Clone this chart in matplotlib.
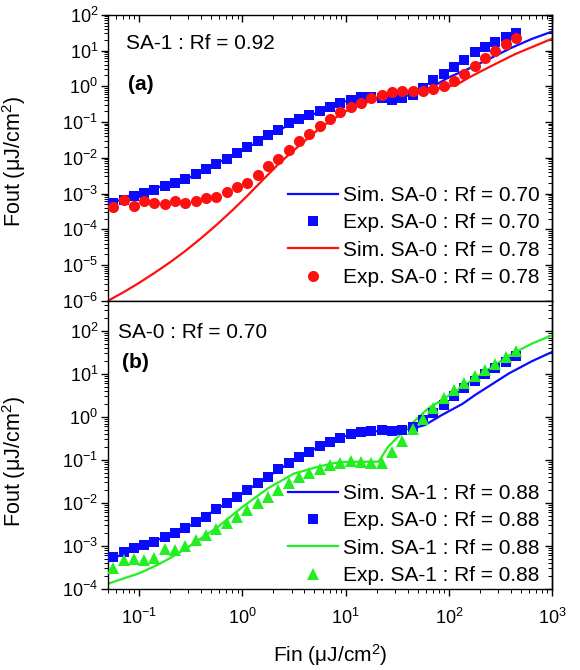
import numpy as np
import matplotlib
matplotlib.use("Agg")
import matplotlib.pyplot as plt
from matplotlib.ticker import LogLocator, LogFormatterSciNotation, NullFormatter

plt.rcParams['font.family'] = ['Liberation Sans', 'DejaVu Sans']
plt.rcParams['mathtext.fontset'] = 'custom'
plt.rcParams['mathtext.rm'] = 'Liberation Sans'
plt.rcParams['mathtext.it'] = 'Liberation Sans:italic'
plt.rcParams['mathtext.bf'] = 'Liberation Sans:bold'
plt.rcParams['mathtext.default'] = 'regular'

# input fluence of the measured points (uJ/cm2)
fin = [0.056, 0.071, 0.089, 0.112, 0.141, 0.178, 0.224, 0.282, 0.355, 0.447,
       0.562, 0.708, 0.891, 1.12, 1.41, 1.78, 2.24, 2.82, 3.55, 4.47,
       5.62, 7.08, 8.91, 11.2, 14.1, 17.8, 22.4, 28.2, 35.5, 44.7,
       56.2, 70.8, 89.1, 112, 141, 178, 224, 282, 355, 447]

# (a) experimental points
exp_a_070 = [5.6e-4, 6.8e-4, 8.3e-4, 1.05e-3, 1.23e-3, 1.58e-3, 1.95e-3, 2.5e-3, 3.5e-3, 4.8e-3,
             6.8e-3, 9.3e-3, 1.35e-2, 2.0e-2, 2.9e-2, 4.2e-2, 5.8e-2, 9.3e-2, 0.12, 0.16,
             0.21, 0.27, 0.35, 0.41, 0.49, 0.49, 0.47, 0.42, 0.47, 0.58,
             0.89, 1.45, 2.2, 3.5, 5.5, 8.9, 12.6, 17.4, 24.0, 31.6]
exp_a_078 = [4.2e-4, 6.5e-4, 4.4e-4, 6.3e-4, 5.4e-4, 5.1e-4, 6.3e-4, 5.4e-4, 6.0e-4, 7.4e-4,
             7.9e-4, 1.07e-3, 1.51e-3, 2.0e-3, 3.2e-3, 5.8e-3, 9.1e-3, 1.66e-2, 2.9e-2, 4.7e-2,
             7.6e-2, 0.12, 0.19, 0.26, 0.35, 0.47, 0.58, 0.68, 0.72, 0.74,
             0.76, 0.83, 1.0, 1.41, 2.24, 3.7, 6.2, 10.0, 15.5, 22.4]

# (a) simulated curves
sim_a_070_x = [0.05, 0.1, 0.316, 1.0, 3.16, 10, 17.8, 31.6, 50, 70.8, 100, 158, 251, 398, 631, 1000]
sim_a_070_y = [5.0e-4, 1.0e-3, 2.9e-3, 1.6e-2, 0.1, 0.38, 0.47, 0.48, 0.63, 1.0, 1.78, 3.16, 6.0, 11.7, 20.9, 33.9]
sim_a_078_x = [0.05, 0.0708, 0.1, 0.141, 0.2, 0.282, 0.398, 0.562, 0.794, 1.12, 1.58, 2.29, 3.63, 5.75,
               10, 17.8, 31.6, 58.9, 91.2, 123, 158, 251, 437, 1000]
sim_a_078_y = [1.0e-6, 1.74e-6, 3.16e-6, 6.0e-6, 1.2e-5, 2.5e-5, 5.6e-5, 1.32e-4, 3.3e-4, 8.7e-4, 2.4e-3, 7.1e-3, 2.3e-2, 7.1e-2,
               0.2, 0.4, 0.6, 0.79, 0.91, 1.17, 1.78, 3.55, 7.9, 21.4]

# (b) experimental points
exp_b_sa0 = [5.6e-4, 7.4e-4, 8.9e-4, 1.05e-3, 1.26e-3, 1.62e-3, 2.04e-3, 2.57e-3, 3.6e-3, 4.8e-3,
             7.1e-3, 9.8e-3, 1.38e-2, 2.0e-2, 2.9e-2, 4.1e-2, 6.0e-2, 8.3e-2, 0.117, 0.155,
             0.21, 0.26, 0.33, 0.40, 0.45, 0.48, 0.49, 0.48, 0.49, 0.59,
             0.83, 1.2, 1.86, 3.0, 4.6, 6.9, 9.8, 13.8, 18.6, 25.7]
exp_b_sa1 = [3.0e-4, 4.6e-4, 4.9e-4, 4.7e-4, 5.1e-4, 8.3e-4, 7.9e-4, 1.0e-3, 1.38e-3, 1.78e-3,
             2.45e-3, 3.4e-3, 4.8e-3, 6.9e-3, 9.8e-3, 1.38e-2, 2.0e-2, 2.9e-2, 3.9e-2, 5.0e-2,
             6.0e-2, 7.6e-2, 8.5e-2, 9.3e-2, 9.1e-2, 8.7e-2, 8.5e-2, 0.15, 0.28, 0.51,
             0.91, 1.58, 2.7, 4.2, 6.0, 8.9, 12.3, 17.4, 25.1, 33.9]

# (b) simulated curves
sim_b_sa0_x = [0.05, 0.1, 0.178, 0.316, 0.562, 1.0, 1.78, 3.16, 5.62, 10, 17.8, 31.6, 44.7, 58.9, 85.1, 135, 182, 380, 631, 1000]
sim_b_sa0_y = [4.5e-4, 9.5e-4, 1.6e-3, 3.0e-3, 7.1e-3, 1.65e-2, 4.1e-2, 0.1, 0.21, 0.36, 0.46, 0.49, 0.54, 0.65, 1.1, 2.0, 3.3, 10.2, 19.5, 32.4]
sim_b_sa1_x = [0.05, 0.1, 0.15, 0.2, 0.282, 0.398, 0.562, 1.0, 1.78, 3.16, 5.62, 7.94, 10, 17.8, 20.9,
               25.7, 32.4, 40.7, 51.3, 63.1, 85.1, 135, 209, 398, 631, 1000]
sim_b_sa1_y = [1.32e-4, 2.3e-4, 3.6e-4, 5.2e-4, 8.5e-4, 1.5e-3, 2.6e-3, 8.0e-3, 2.2e-2, 4.8e-2, 7.1e-2, 8.5e-2, 0.09, 0.091, 0.091,
               0.2, 0.35, 0.59, 1.0, 1.58, 2.45, 5.0, 10.2, 28.2, 50.1, 79.4]

BLUE = '#0a0aff'
RED = '#ff1010'
GREEN = '#22ee22'

fig = plt.figure(figsize=(5.8, 6.7), dpi=100)
ax1 = fig.add_axes([0.186, 0.551, 0.766, 0.427])
ax2 = fig.add_axes([0.186, 0.121, 0.766, 0.430])


def style(ax, top_panel):
    ax.set_xscale('log')
    ax.set_yscale('log')
    ax.set_xlim(0.05, 1000)
    for s in ax.spines.values():
        s.set_linewidth(1.0)
    for axis in (ax.xaxis, ax.yaxis):
        axis.set_major_locator(LogLocator(base=10, numticks=20))
        axis.set_minor_locator(LogLocator(base=10, subs=np.arange(2, 10), numticks=100))
        axis.set_minor_formatter(NullFormatter())
    ax.yaxis.set_major_formatter(LogFormatterSciNotation())
    ax.tick_params(axis='y', which='both', direction='out', left=True, right=False,
                   labelsize=13, pad=2)
    ax.tick_params(axis='y', which='major', length=5, width=1)
    ax.tick_params(axis='y', which='minor', length=3, width=0.7)
    ax.tick_params(axis='x', which='major', length=5, width=1)
    ax.tick_params(axis='x', which='minor', length=3, width=0.7)
    # mirrored ticks pointing inward
    sec = ax.secondary_yaxis('right')
    sec.set_yscale('log')
    sec.yaxis.set_minor_locator(LogLocator(base=10, subs=np.arange(2, 10), numticks=100))
    sec.tick_params(axis='y', which='both', direction='in', labelright=False)
    sec.tick_params(axis='y', which='major', length=5, width=1)
    sec.tick_params(axis='y', which='minor', length=3, width=0.7)
    sec.spines['right'].set_linewidth(1.0)
    if top_panel:
        ax.tick_params(axis='x', which='both', direction='in', top=True, bottom=False,
                       labelbottom=False)
    else:
        ax.xaxis.set_major_formatter(LogFormatterSciNotation())
        ax.tick_params(axis='x', which='both', direction='out', top=False, bottom=True,
                       labelsize=13, pad=9)


style(ax1, True)
style(ax2, False)

ax1.set_ylim(1e-6, 1e2)
ax2.set_ylim(1e-4, 500)

# panel (a)
ax1.plot(sim_a_070_x, sim_a_070_y, color=BLUE, lw=1.6, label='Sim. SA-0 : Rf = 0.70', zorder=2)
ax1.plot(fin, exp_a_070, 's', color=BLUE, ms=7, mew=0, label='Exp. SA-0 : Rf = 0.70', zorder=3)
ax1.plot(sim_a_078_x, sim_a_078_y, color=RED, lw=1.6, label='Sim. SA-0 : Rf = 0.78', zorder=2)
ax1.plot(fin, exp_a_078, 'o', color=RED, ms=8, mew=0, label='Exp. SA-0 : Rf = 0.78', zorder=4)

# panel (b)
ax2.plot(sim_b_sa0_x, sim_b_sa0_y, color=BLUE, lw=1.6, label='Sim. SA-1 : Rf = 0.88', zorder=2)
ax2.plot(fin, exp_b_sa0, 's', color=BLUE, ms=7, mew=0, label='Exp. SA-0 : Rf = 0.88', zorder=3)
ax2.plot(sim_b_sa1_x, sim_b_sa1_y, color=GREEN, lw=1.6, label='Sim. SA-1 : Rf = 0.88', zorder=2)
ax2.plot(fin, exp_b_sa1, '^', color=GREEN, ms=9, mew=0, label='Exp. SA-1 : Rf = 0.88', zorder=4)

leg_kw = dict(loc='lower right', frameon=False, fontsize=15, handlelength=2.4,
              handletextpad=0.25, labelspacing=0.4, borderaxespad=0.3, borderpad=0.2)
ax1.legend(bbox_to_anchor=(0.995, 0.012), **leg_kw)
ax2.legend(bbox_to_anchor=(0.995, -0.022), **leg_kw)

ax1.text(0.04, 0.9, 'SA-1 : Rf = 0.92', transform=ax1.transAxes, fontsize=15, va='center')
ax1.text(0.045, 0.755, '(a)', transform=ax1.transAxes, fontsize=15, fontweight='bold', va='center')
ax2.text(0.022, 0.889, 'SA-0 : Rf = 0.70', transform=ax2.transAxes, fontsize=15, va='center')
ax2.text(0.032, 0.785, '(b)', transform=ax2.transAxes, fontsize=15, fontweight='bold', va='center')

ax1.set_ylabel('Fout (μJ/cm$^2$)', fontsize=15.5)
ax1.yaxis.set_label_coords(-0.18, 0.486)
ax2.set_ylabel('Fout (μJ/cm$^2$)', fontsize=15.5)
ax2.yaxis.set_label_coords(-0.18, 0.441)
ax2.set_xlabel('Fin (μJ/cm$^2$)', fontsize=15)
ax2.xaxis.set_label_coords(0.5, -0.185)

fig.savefig('out.png', dpi=100)
